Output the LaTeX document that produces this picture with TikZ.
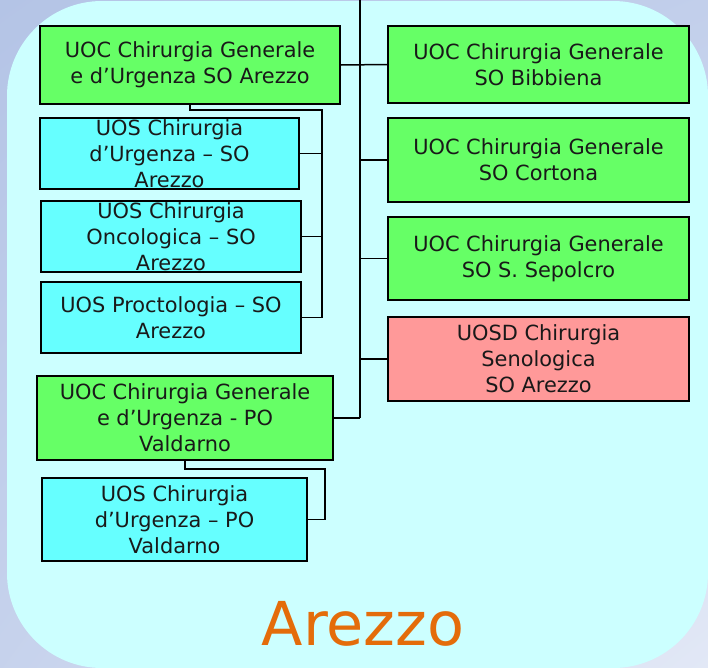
\documentclass[tikz,border=0pt]{standalone}
\usepackage{fontspec}
\setmainfont{DejaVu Sans}
\usetikzlibrary{shadings}
\definecolor{bgout1}{HTML}{B4C4E6}
\definecolor{bgout2}{HTML}{E2E8F6}
\definecolor{bgin}{HTML}{CCFFFF}
\definecolor{uocgreen}{HTML}{66FF66}
\definecolor{uoscyan}{HTML}{66FFFF}
\definecolor{uosdpink}{HTML}{FF9999}
\definecolor{titleorange}{HTML}{E46C0A}
\tikzset{
  unit/.style={draw=black, line width=1.6pt, rectangle, inner sep=0pt, align=center,
    font=\fontsize{20.9}{26}\selectfont, text=black!90},
  uoc/.style={unit, fill=uocgreen},
  uos/.style={unit, fill=uoscyan},
  uosd/.style={unit, fill=uosdpink},
  link/.style={draw=black, line width=1.5pt},
}
\begin{document}
\begin{tikzpicture}[x=1pt,y=-1pt]
\useasboundingbox (0,0) rectangle (708,667);
\shade[upper left=bgout1, upper right=bgout1!70!bgout2, lower left=bgout1!60!bgout2, lower right=bgout2] (0,0) rectangle (708,667);
\fill[bgin, rounded corners=95pt] (7,1) rectangle (708,668);

% right column
\node[uoc, minimum width=301pt, minimum height=77pt] (bib) at (538.5,64.5) {UOC Chirurgia Generale\\SO Bibbiena};
\node[uoc, minimum width=301pt, minimum height=84pt] (cor) at (538.5,160) {UOC Chirurgia Generale\\SO Cortona};
\node[uoc, minimum width=301pt, minimum height=83pt] (sep) at (538.5,258.5) {UOC Chirurgia Generale\\SO S. Sepolcro};
\node[uosd, minimum width=301pt, minimum height=84pt] (sen) at (538.5,359) {UOSD Chirurgia\\Senologica\\SO Arezzo};

% left column
\node[uoc, minimum width=300pt, minimum height=78pt] (are) at (190,65) {UOC Chirurgia Generale\\e d’Urgenza SO Arezzo};
\node[uos, minimum width=259pt, minimum height=71pt] (urg) at (169.5,153.5) {UOS Chirurgia\\d’Urgenza – SO\\Arezzo};
\node[uos, minimum width=260pt, minimum height=71pt] (onc) at (171,236.5) {UOS Chirurgia\\Oncologica – SO\\Arezzo};
\node[uos, minimum width=260pt, minimum height=71pt] (pro) at (171,317.5) {UOS Proctologia – SO\\Arezzo};
\node[uoc, minimum width=296pt, minimum height=84pt] (val) at (185,418) {UOC Chirurgia Generale\\e d’Urgenza - PO\\Valdarno};
\node[uos, minimum width=265pt, minimum height=83pt] (vurg) at (174.5,519.5) {UOS Chirurgia\\d’Urgenza – PO\\Valdarno};

% connectors
\coordinate (top) at (360,0);
\coordinate (busA) at (322,110);
\coordinate (busB) at (325,469);
\draw[link] (top) -- (top |- val.east);
\draw[link] (are.east) -- (bib.west);
\draw[link] (cor.west) -- (cor.west -| top);
\draw[link] (sep.west) -- (sep.west -| top);
\draw[link] (sen.west) -- (sen.west -| top);
\draw[link] (val.east) -- (val.east -| top);
\draw[link] (are.south) |- (busA) -- (busA |- pro.east);
\draw[link] (urg.east) -- (urg.east -| busA);
\draw[link] (onc.east) -- (onc.east -| busA);
\draw[link] (pro.east) -- (pro.east -| busA);
\draw[link] (val.south) |- (busB) |- (vurg.east);

\node[anchor=base, text=titleorange, font=\fontsize{60.5}{70}\selectfont] (title) at (363,645) {Arezzo};
\end{tikzpicture}
\end{document}
